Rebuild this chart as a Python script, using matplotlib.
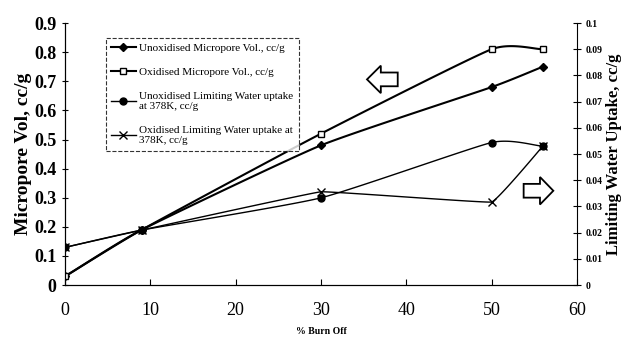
import numpy as np
import matplotlib
matplotlib.use('Agg')
import matplotlib.pyplot as plt
from matplotlib.patches import Polygon

plt.rcParams['font.family'] = ['Liberation Serif', 'DejaVu Serif']

burn_off = [0, 9, 30, 50, 56]
unox_micro = [0.03, 0.19, 0.48, 0.68, 0.75]
ox_micro = [0.03, 0.19, 0.52, 0.81, 0.81]
unox_water = [0.0144, 0.021, 0.0333, 0.0544, 0.053]
ox_water = [0.0144, 0.021, 0.0356, 0.0317, 0.053]

labels = ['Unoxidised Micropore Vol., cc/g',
          'Oxidised Micropore Vol., cc/g',
          'Unoxidised Limiting Water uptake\nat 378K, cc/g',
          'Oxidised Limiting Water uptake at\n378K, cc/g']


def smooth(x, y, tension=0.4, n=30):
    # Hermite smoothing, similar to Excel's smoothed lines
    x = np.asarray(x, float)
    y = np.asarray(y, float)
    px = np.concatenate([[2 * x[0] - x[1]], x, [2 * x[-1] - x[-2]]])
    py = np.concatenate([[2 * y[0] - y[1]], y, [2 * y[-1] - y[-2]]])
    xs, ys = [], []
    t = np.linspace(0, 1, n)
    for i in range(1, len(px) - 2):
        for p, out in ((px, xs), (py, ys)):
            p0, p1, p2, p3 = p[i - 1], p[i], p[i + 1], p[i + 2]
            m1 = (p2 - p0) / 2 * tension
            m2 = (p3 - p1) / 2 * tension
            h00 = 2 * t**3 - 3 * t**2 + 1
            h10 = t**3 - 2 * t**2 + t
            h01 = -2 * t**3 + 3 * t**2
            h11 = t**3 - t**2
            out.extend(h00 * p1 + h10 * m1 + h01 * p2 + h11 * m2)
    return np.array(xs), np.array(ys)


fig = plt.figure(figsize=(6.25, 3.39), dpi=100)
ax = fig.add_axes([0.104, 0.159, 0.819, 0.773])
ax2 = ax.twinx()

handles = []
for axis, ys, mk, ms, fc, lw, ten in [
        (ax, unox_micro, 'D', 4, 'black', 1.5, 0.5),
        (ax, ox_micro, 's', 5, 'white', 1.5, 0.5),
        (ax2, unox_water, 'o', 5, 'black', 1.0, 0.5),
        (ax2, ox_water, 'x', 6, 'black', 1.0, 0.15)]:
    sx, sy = smooth(burn_off, ys, ten)
    axis.plot(sx, sy, color='black', lw=lw)
    axis.plot(burn_off, ys, ls='none', marker=mk, ms=ms, mfc=fc,
              mec='black', mew=1)
    h, = axis.plot([], [], color='black', lw=lw, marker=mk, ms=ms,
                   mfc=fc, mec='black', mew=1)
    handles.append(h)

ax.set_xlim(0, 60)
ax.set_ylim(0, 0.9)
ax2.set_ylim(0, 0.1)
ax.set_xticks(range(0, 61, 10))
ax.set_yticks(np.arange(0, 0.91, 0.1))
ax.set_yticklabels(['0'] + ['%.1f' % v for v in np.arange(0.1, 0.91, 0.1)])
ax2.set_yticks(np.arange(0, 0.101, 0.01))
ax2.set_yticklabels(['0'] + ['%.2f' % v for v in np.arange(0.01, 0.091, 0.01)] + ['0.1'])

for a in (ax, ax2):
    a.spines['top'].set_visible(False)
ax.spines['right'].set_visible(False)
ax.tick_params(axis='x', direction='in', length=4, labelsize=13, pad=12)
ax.tick_params(axis='y', direction='inout', length=5, labelsize=13)
ax2.tick_params(axis='y', direction='inout', length=6, labelsize=7, pad=3)
for lab in ax.get_yticklabels():
    lab.set_fontweight('bold')
for lab in ax2.get_yticklabels():
    lab.set_fontweight('bold')

ax.set_xlabel('% Burn Off', fontsize=7, fontweight='bold', labelpad=6)
ax.set_ylabel('Micropore Vol, cc/g', fontsize=14, fontweight='bold', labelpad=2)
ax2.set_ylabel('Limiting Water Uptake, cc/g', fontsize=12, fontweight='bold', labelpad=3)

leg = ax.legend(handles, labels, loc='upper left', bbox_to_anchor=(0.16, 0.905),
                bbox_transform=fig.transFigure, fontsize=8, frameon=True,
                fancybox=False, edgecolor='black', handlelength=2.2,
                handletextpad=0.3, labelspacing=1.3, borderpad=0.5)
leg.get_frame().set_linestyle('--')
leg.get_frame().set_linewidth(0.8)


def block_arrow(cx, cy, w, h, right):
    # hollow block arrow, in axes fraction units
    s = 1 if right else -1
    hw = w * 0.45
    pts = [(-w / 2, -h * 0.25), (w / 2 - hw, -h * 0.25), (w / 2 - hw, -h / 2),
           (w / 2, 0), (w / 2 - hw, h / 2), (w / 2 - hw, h * 0.25),
           (-w / 2, h * 0.25)]
    pts = [(cx + s * px, cy + py) for px, py in pts]
    ax.add_patch(Polygon(pts, closed=True, facecolor='white', edgecolor='black',
                         lw=1.3, transform=ax.transAxes, zorder=5))


block_arrow(0.62, 0.785, 0.06, 0.105, right=False)
block_arrow(0.925, 0.36, 0.058, 0.105, right=True)

fig.savefig('out.png', dpi=100)
